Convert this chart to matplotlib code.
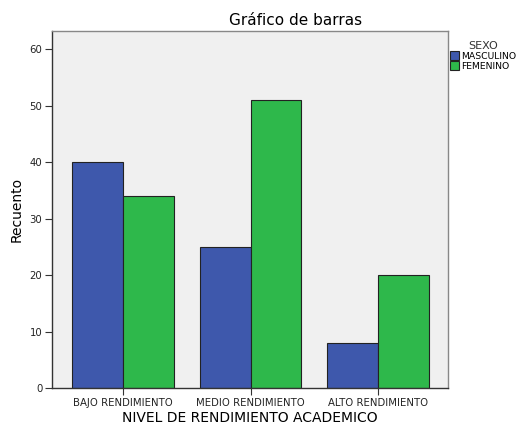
import numpy as np
import matplotlib.pyplot as plt

categorias = ["BAJO RENDIMIENTO", "MEDIO RENDIMIENTO", "ALTO RENDIMIENTO"]
masculino = [40, 25, 8]
femenino = [34, 51, 20]
y_ticks = [0, 10, 20, 30, 40, 50, 60]

azul = "#3E58AC"
verde = "#2EB84B"

fig = plt.figure(figsize=(5.24, 4.23), dpi=100)
ax = fig.add_axes([0.0992, 0.0827, 0.7558, 0.844])
ax.set_facecolor("#F0F0F0")

x = np.arange(len(categorias))
w = 0.398
ax.bar(x - w / 2, masculino, w, color=azul, edgecolor="#222222", linewidth=0.8, label="MASCULINO")
ax.bar(x + w / 2, femenino, w, color=verde, edgecolor="#222222", linewidth=0.8, label="FEMENINO")

ax.set_xlim(-0.557, 2.549)
ax.set_ylim(0, 63.2)
ax.set_yticks(y_ticks)
ax.set_xticks(x)
ax.set_xticklabels(categorias)
ax.tick_params(axis="both", labelsize=7.3, length=5, width=0.8, color="#333333", labelcolor="#222222", pad=2)
for s in ax.spines.values():
    s.set_color("#888888")
    s.set_linewidth(1)
ax.spines["left"].set_color("#333333")
ax.spines["bottom"].set_color("#333333")

fig.text(0.565, 0.952, "Gráfico de barras", fontsize=11, ha="center", va="center")
ax.set_ylabel("Recuento", fontsize=10, labelpad=4)
ax.set_xlabel("NIVEL DE RENDIMIENTO ACADEMICO", fontsize=10, labelpad=2)

leg = ax.legend(title="SEXO", loc="upper left", bbox_to_anchor=(0.997, 0.98), frameon=False,
                fontsize=6.7, title_fontsize=8, handlelength=1.0, handleheight=1.0,
                handletextpad=0.25, labelspacing=0.05, borderaxespad=0.1, borderpad=0.2)
leg._legend_box.align = "center"
leg.get_title().set_color("#333333")

fig.savefig("out.png", dpi=100)
